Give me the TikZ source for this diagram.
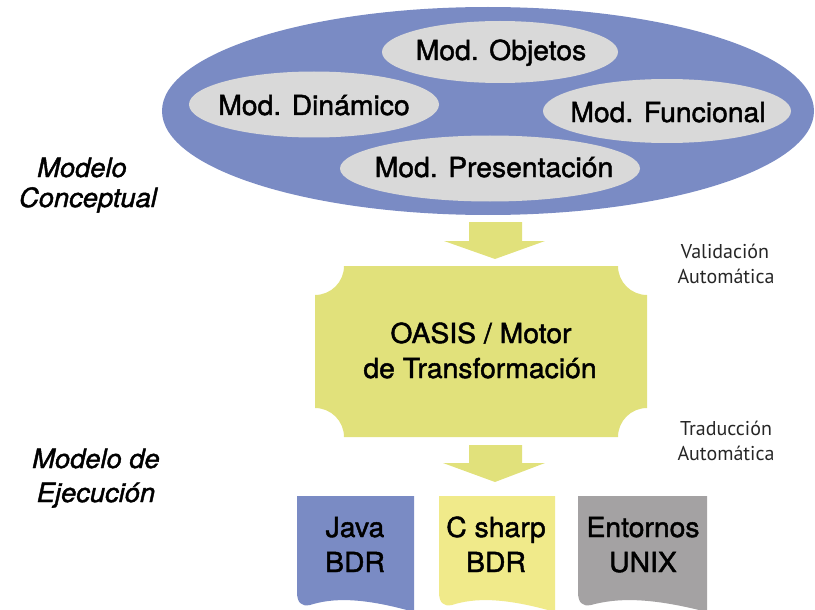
\documentclass[tikz,border=0pt]{standalone}
\usepackage{fontspec}
\setmainfont{TeX Gyre Heros}[FakeStretch=1.03,FakeBold=1.6]
\newfontfamily\notefont{PT Sans}
\usetikzlibrary{shapes.geometric}
\definecolor{ovalblue}{HTML}{7A8BC4}
\definecolor{ovalgray}{HTML}{D9D9D9}
\definecolor{boxyellow}{HTML}{E1E17B}
\definecolor{docyellow}{HTML}{F0EA8A}
\definecolor{docgray}{HTML}{A4A2A3}
\tikzset{
  innerov/.style={ellipse, fill=ovalgray, inner sep=0pt},
  biglbl/.style={anchor=base, inner sep=0pt, font=\fontsize{27.5}{30}\selectfont},
  sidelbl/.style={anchor=base, inner sep=0pt, font=\fontsize{26.5}{30}\selectfont\itshape},
  notelbl/.style={anchor=base, inner sep=0pt, text=black!85, font=\notefont\fontsize{20}{22}\selectfont},
  blockarrow/.style={fill=boxyellow},
}
\begin{document}
\begin{tikzpicture}[x=1pt,y=-1pt]
\useasboundingbox (0,0) rectangle (815,610);
% conceptual model
\node[ellipse, fill=ovalblue, inner sep=0pt, minimum width=652, minimum height=208] (conc) at (488,111) {};
\node[innerov, minimum width=236, minimum height=62] (objov) at (500,52) {};
\node[innerov, minimum width=250, minimum height=66] (dinov) at (314,104.5) {};
\node[innerov, minimum width=248, minimum height=64] (funov) at (667,111) {};
\node[innerov, minimum width=300, minimum height=66] (preov) at (490,168.5) {};
\node[biglbl] (objt) at (501,60) {Mod. Objetos};
\node[biglbl] (dint) at (314,115) {Mod. Dinámico};
\node[biglbl] (funt) at (668,122) {Mod. Funcional};
\node[biglbl] (pret) at (494,177) {Mod. Presentación};
% arrow 1
\fill[blockarrow] (469,222) -- (522,222) -- (522,241) -- (545,241) -- (495,259) -- (444,241) -- (469,241) -- cycle;
% transformation engine box
\fill[boxyellow] (344,266) -- (618,266)
  .. controls (618,282) and (631,295) .. (647,295)
  -- (647,408)
  .. controls (631,408) and (618,421) .. (618,437)
  -- (344,437)
  .. controls (344,421) and (331,408) .. (315,408)
  -- (315,295)
  .. controls (331,295) and (344,282) .. (344,266) -- cycle;
\node[biglbl] (oas1) at (481,343) {OASIS / Motor};
\node[biglbl] (oas2) at (480,378) {de Transformación};
% arrow 2
\fill[blockarrow] (469,445) -- (522,445) -- (522,463) -- (545,463) -- (495,482) -- (443,463) -- (469,463) -- cycle;
% documents
\foreach \xa/\xb/\col in {297/414/ovalblue, 439/555/docyellow, 578/707/docgray}{
  \fill[\col] (\xa,496) -- (\xb,496) -- (\xb,612)
    .. controls ({\xa+0.55*(\xb-\xa)},597) and ({\xa+0.3*(\xb-\xa)},598) .. ({\xa+13},605)
    .. controls ({\xa+4},607) and (\xa,602) .. (\xa,592) -- cycle;
}
\node[biglbl] (java1) at (355,537) {Java};
\node[biglbl] (java2) at (355,572) {BDR};
\node[biglbl] (cs1) at (496,537) {C sharp};
\node[biglbl] (cs2) at (496,572) {BDR};
\node[biglbl] (unx1) at (643,537) {Entornos};
\node[biglbl] (unx2) at (643,572) {UNIX};
% side labels
\node[sidelbl] (mc1) at (82,177) {Modelo};
\node[sidelbl] (mc2) at (88,207) {Conceptual};
\node[sidelbl] (me1) at (96,468) {Modelo de};
\node[sidelbl] (me2) at (96,502) {Ejecución};
\node[notelbl] (va1) at (725,258) {Validación};
\node[notelbl] (va2) at (726,283) {Automática};
\node[notelbl] (tr1) at (726,435) {Traducción};
\node[notelbl] (tr2) at (726,460) {Automática};
\end{tikzpicture}
\end{document}
